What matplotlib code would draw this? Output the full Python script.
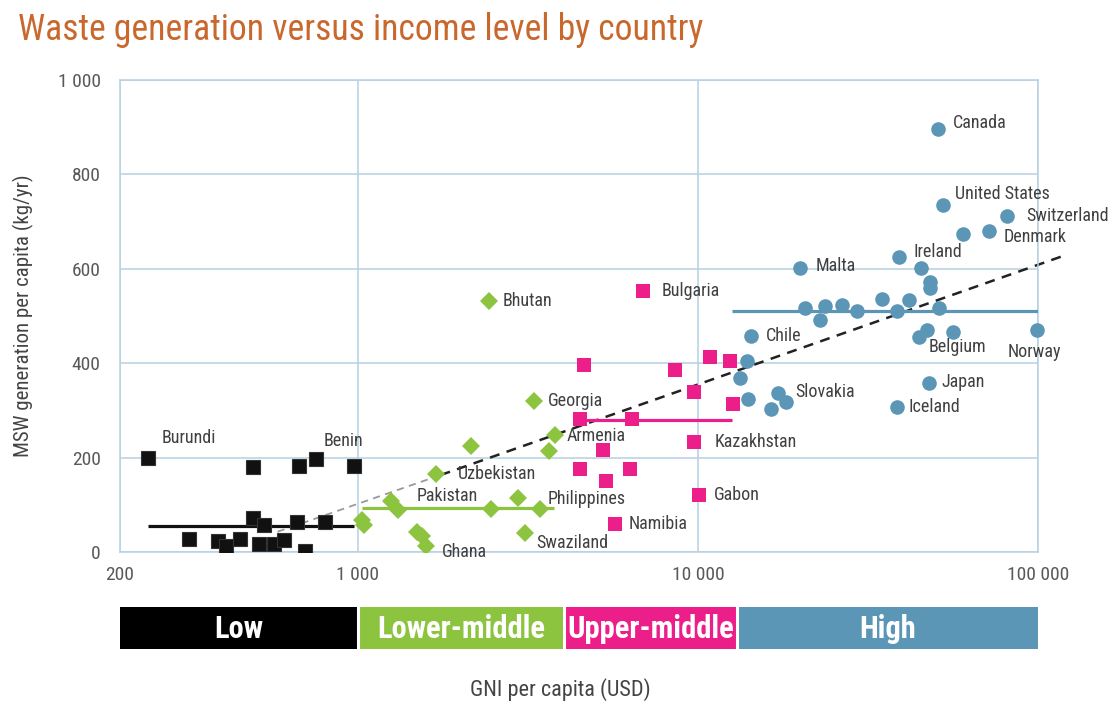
import os
import matplotlib
matplotlib.use('Agg')
import matplotlib.pyplot as plt
import numpy as np
from matplotlib import font_manager
from matplotlib.font_manager import FontProperties

# look for a condensed face, otherwise fall back to Liberation Sans
def find_face(bold):
    found = []
    for f in font_manager.fontManager.ttflist:
        key = (f.name + ' ' + os.path.basename(f.fname) + ' ' + str(f.stretch)).lower()
        if ('condensed' not in key and 'narrow' not in key) or 'extra' in key or 'ultra' in key:
            continue
        if f.style != 'normal':
            continue
        w = f.weight if isinstance(f.weight, int) else (700 if 'bold' in str(f.weight) else 400)
        if bold and w != 700:
            continue
        if not bold and w != 400:
            continue
        found.append(f)
    order = ['roboto', 'liberation', 'open', 'noto', 'dejavu']
    found.sort(key=lambda f: ([i for i, o in enumerate(order) if o in f.name.lower()] + [9])[0]
               + (0.5 if 'semi' in f.fname.lower() else 0))
    return found

reg = find_face(False)
bld = find_face(True)
if reg:
    FP = FontProperties(fname=reg[0].fname)
else:
    FP = FontProperties(family='Liberation Sans')
if bld:
    FPB = FontProperties(fname=bld[0].fname)
else:
    FPB = FontProperties(family='Liberation Sans', weight='bold')

def fp(size, bold=False):
    p = (FPB if bold else FP).copy()
    p.set_size(size)
    return p

# ---- data (GNI per capita USD, MSW kg/yr) ----
low_gni = [241, 493, 673, 753, 977, 491, 531, 662, 802, 320, 389, 410, 452, 511, 568, 605, 700]
low_msw = [199, 180, 183, 197, 183, 71, 57, 64, 64, 27, 23, 13, 27, 16, 18, 25, 3]

lmid_gni = [2428, 3292, 3795, 3643, 2157, 1702, 1250, 1313, 1030, 1045, 2468, 2963, 3428, 1490, 1549, 1584, 3097]
lmid_msw = [531, 319, 248, 213, 225, 165, 107, 89, 68, 58, 91, 114, 91, 43, 33, 13, 40]

umid_gni = [6878, 4617, 8536, 10816, 12442, 9706, 12668, 4513, 6402, 5263, 9752, 4513, 5373, 6300, 10042, 5718]
umid_msw = [553, 396, 386, 413, 404, 338, 314, 282, 282, 217, 232, 176, 151, 176, 121, 59]

high_gni = [50620, 52360, 81100, 59950, 71800, 39050, 45130, 48060, 48060, 19970, 20650, 23640,
            26460, 29300, 22750, 34830, 41790, 38380, 51070, 46990, 44620, 56250, 99250, 14310,
            13920, 13310, 14020, 17130, 18160, 16380, 47630, 38380]
high_msw = [896, 735, 712, 673, 679, 626, 602, 572, 560, 601, 516, 522,
            524, 510, 491, 537, 533, 510, 517, 471, 455, 466, 471, 457,
            405, 369, 325, 337, 318, 304, 357, 307]

# group means: (x start, x end, y)
low_mean = (241, 975, 56)
lmid_mean = (1032, 3770, 93)
umid_mean = (4513, 12580, 279)
high_mean = (12570, 100000, 510)

# trend line ends
trend_x = [581, 1750, 117000]
trend_y = [43, 163, 626]

# labels: name, x, y, dx px, dy px
labels = [
    ('Burundi', 241, 199, 14, 20),
    ('Benin', 753, 197, 8, 18),
    ('Bhutan', 2428, 531, 14, 0),
    ('Georgia', 3292, 319, 14, 0),
    ('Armenia', 3795, 248, 12, -1),
    ('Uzbekistan', 1702, 165, 21, 0),
    ('Pakistan', 1250, 107, 26, 5),
    ('Philippines', 3428, 91, 8, 10),
    ('Swaziland', 3097, 40, 11, -10),
    ('Ghana', 1584, 13, 16, -6),
    ('Bulgaria', 6878, 553, 19, 0),
    ('Kazakhstan', 9752, 232, 20, 0),
    ('Gabon', 10042, 121, 15, 0),
    ('Namibia', 5718, 59, 13, 0),
    ('Chile', 14310, 457, 15, 0),
    ('Slovakia', 17130, 337, 18, 1),
    ('Malta', 19970, 601, 15, 2),
    ('Ireland', 39050, 626, 14, 5),
    ('Canada', 50620, 896, 15, 6),
    ('United States', 52360, 735, 12, 11),
    ('Switzerland', 81100, 712, 19, 0),
    ('Denmark', 71800, 679, 14, -6),
    ('Belgium', 44620, 455, 10, -10),
    ('Norway', 99250, 471, -30, -22),
    ('Japan', 47630, 357, 13, 1),
    ('Iceland', 38380, 307, 12, 0),
]

bands = [200, 1000, 4040, 13050, 100000]
band_names = ['Low', 'Lower-middle', 'Upper-middle', 'High']

BLACK = '#111111'
GREEN = '#8CC43F'
PINK = '#EB1E8A'
BLUE = '#5B96B6'
GRID = '#B7D0E2'
TXT = '#404040'

fig = plt.figure(figsize=(11.1, 7.04), dpi=100)
ax = fig.add_axes([0.1081, 0.2159, 0.8273, 0.6705])

ax.set_xscale('log')
ax.set_xlim(200, 100000)
ax.set_ylim(0, 1000)

ax.set_yticks([0, 200, 400, 600, 800, 1000])
ax.set_yticklabels(['0', '200', '400', '600', '800', '1 000'], fontproperties=fp(14))
ax.set_xticks([200, 1000, 10000, 100000])
ax.set_xticklabels(['200', '1 000', '10 000', '100 000'], fontproperties=fp(14))
ax.xaxis.set_minor_locator(matplotlib.ticker.NullLocator())
ax.tick_params(length=0, colors='#595959', pad=10)
ax.tick_params(axis='y', pad=14)
ax.grid(True, color=GRID, linewidth=1.1)
ax.set_axisbelow(True)
for s in ax.spines.values():
    s.set_color(GRID)
    s.set_linewidth(1.1)

ax.set_ylabel('MSW generation per capita (kg/yr)', fontproperties=fp(15), color='#444444', labelpad=17)

# trend line
ax.plot(trend_x[:2], trend_y[:2], color='#999999', linestyle=(0, (4, 3)), linewidth=1.3, zorder=2)
ax.plot(trend_x[1:], trend_y[1:], color='#222222', linestyle=(0, (4, 3)), linewidth=1.8, zorder=2, clip_on=False)

# mean lines
for m, c in [(low_mean, BLACK), (lmid_mean, GREEN), (umid_mean, PINK), (high_mean, BLUE)]:
    ax.plot([m[0], m[1]], [m[2], m[2]], color=c, linewidth=2.3, zorder=3, solid_capstyle='butt')

ax.plot(low_gni, low_msw, 's', color=BLACK, markersize=10.5, markeredgecolor='#333333', markeredgewidth=0.8, zorder=4)
ax.plot(lmid_gni, lmid_msw, 'D', color=GREEN, markersize=9, markeredgewidth=0, zorder=4)
ax.plot(umid_gni, umid_msw, 's', color=PINK, markersize=10, markeredgewidth=0, zorder=4)
ax.plot(high_gni, high_msw, 'o', color=BLUE, markersize=10.5, markeredgewidth=0, zorder=4, clip_on=False)

for name, x, y, dx, dy in labels:
    ax.annotate(name, (x, y), xytext=(dx, dy), textcoords='offset pixels',
                ha='left', va='center', fontproperties=fp(13), color=TXT, zorder=5,
                annotation_clip=False)

# income band bar
bx = fig.add_axes([0.1081, 0.0781, 0.8273, 0.0597])
bx.set_xscale('log')
bx.set_xlim(200, 100000)
bx.set_ylim(0, 1)
bx.axis('off')
band_colors = ['#000000', GREEN, PINK, BLUE]
for i in range(4):
    bx.axvspan(bands[i], bands[i + 1], color=band_colors[i], linewidth=0)
    if i > 0:
        bx.axvline(bands[i], color='white', linewidth=2.2)
    xm = np.sqrt(bands[i] * bands[i + 1])
    bx.text(xm, 0.47, band_names[i], ha='center', va='center', color='white',
            fontproperties=fp(22, True))

fig.text(0.505, 0.02, 'GNI per capita (USD)', ha='center', va='center', fontproperties=fp(16), color='#444444')
fig.text(0.016, 0.957, 'Waste generation versus income level by country', ha='left', va='center',
         fontproperties=fp(25.7), color='#C9672C')

fig.savefig('out.png', dpi=100)
